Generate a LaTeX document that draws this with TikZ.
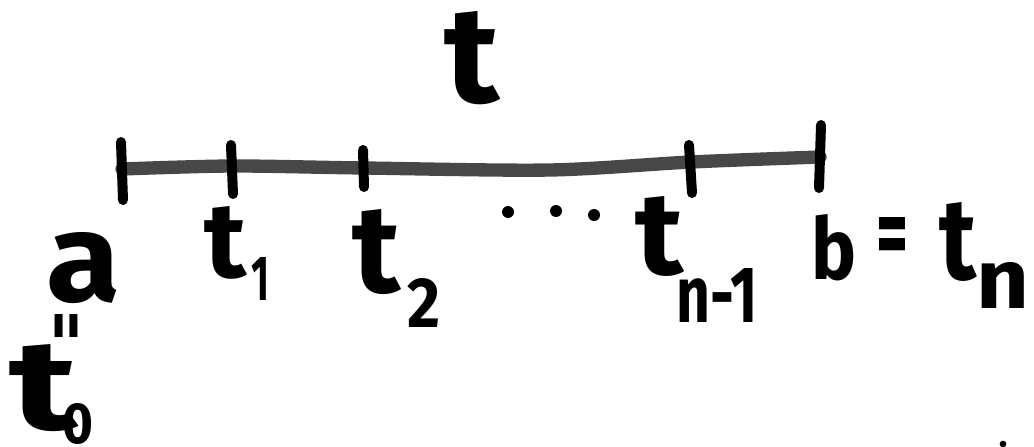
\documentclass[tikz,border=0pt]{standalone}
\usepackage{fontspec}
\usepackage{graphicx}
\setmainfont{Fira Sans}
\newfontfamily\dvs{DejaVu Sans}
\newdimen\pxu \pxu=0.75pt
\newcommand{\gl}[3]{\resizebox{#1\pxu}{#2\pxu}{\bfseries #3}}
\begin{document}
\begin{tikzpicture}[x=0.75pt,y=-0.75pt,
  lab/.style={inner sep=0pt},
  bar/.style={line width=10pt, draw=black!72, line cap=round},
  tickmark/.style={line width=7.5pt, draw=black, line cap=round},
  dotmark/.style={fill=black, draw=none, circle, inner sep=0pt, minimum size=9pt}]
\useasboundingbox (0,0) rectangle (1034,446);
% axis
\coordinate (p0) at (122,169);
\coordinate (m1) at (232,166);
\coordinate (m2) at (364,168);
\coordinate (m3) at (550,170);
\coordinate (m4) at (691,162);
\coordinate (p4) at (820,157);
\draw[bar] plot[smooth] coordinates {(p0) (m1) (m2) (m3) (m4) (p4)};
% ticks
\coordinate (k0a) at (121,142); \coordinate (k0b) at (123,200);
\coordinate (k1a) at (231,145); \coordinate (k1b) at (233,194);
\coordinate (k2a) at (363,150); \coordinate (k2b) at (364,187);
\coordinate (k3a) at (689,145); \coordinate (k3b) at (692,193);
\coordinate (k4a) at (821,125); \coordinate (k4b) at (819,188);
\draw[tickmark] (k0a) -- (k0b);
\draw[tickmark] (k1a) -- (k1b);
\draw[tickmark] (k2a) -- (k2b);
\draw[tickmark] (k3a) -- (k3b);
\draw[tickmark] (k4a) -- (k4b);
% labels
\node[lab] (T) at (472,58) {\gl{55}{91}{t}};
\node[lab] (A) at (84,268) {\gl{74}{69}{a}};
\node[lab] (T1) at (225,243) {\gl{42}{71}{t}};
\node[lab] (S1) at (260,279) {\gl{18}{43}{1}};
\node[lab] (T2) at (376,252) {\gl{48}{83}{t}};
\node[lab] (S2) at (424,303) {\gl{33}{49}{2}};
\node[dotmark] (d1) at (508,212) {};
\node[dotmark] (d2) at (556,211) {};
\node[dotmark] (d3) at (594,215) {};
\node[lab] (Tn1) at (659,236) {\gl{48}{78}{t}};
\node[lab] (Sn1) at (717,295) {\gl{81}{54}{n-1}};
\node[lab] (B) at (834,248) {\gl{45}{65}{b}};
\node[lab] (EQ) at (892,242) {\gl{32}{50}{=}};
\node[lab] (Tn) at (958,242) {\gl{37}{77}{t}};
\node[lab] (Sn) at (1003,285) {\gl{53}{46}{n}};
\node[lab] (T0) at (44,388) {\gl{68}{85}{t}};
\node[lab] (S0) at (78,424) {\gl{31}{40}{0}};
\node[lab] (DT) at (67,345) {\gl{36}{62}{\dvs\symbol{"22}}};
\node[dotmark, minimum size=5pt] (spot) at (1003,444) {};
\end{tikzpicture}
\end{document}
